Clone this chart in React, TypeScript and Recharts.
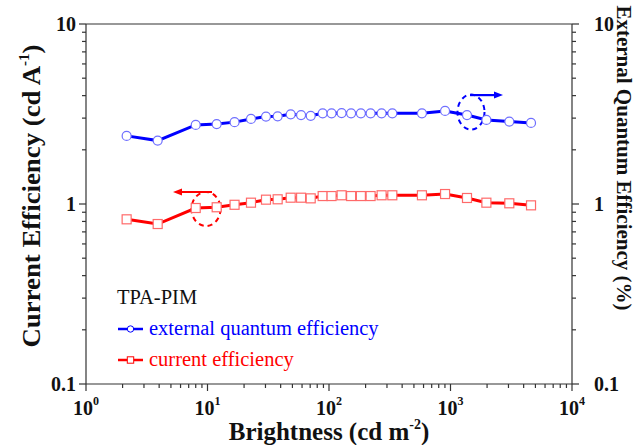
import { LineChart, Line, XAxis, YAxis, ReferenceDot, ReferenceLine, Legend } from 'recharts'

// brightness (cd m-2), shared by both curves
const brightness = [2.16, 3.89, 8.0, 11.9, 16.7, 22.8, 30.3, 37.8, 48.4, 58.9, 70.7, 88.7, 105, 127, 152, 183, 220, 271, 332, 582, 902, 1367, 1974, 3048, 4600]
// external quantum efficiency (%)
const eqe = [2.39, 2.25, 2.75, 2.78, 2.85, 2.97, 3.06, 3.07, 3.15, 3.12, 3.09, 3.19, 3.19, 3.2, 3.19, 3.19, 3.19, 3.19, 3.19, 3.19, 3.29, 3.12, 2.93, 2.87, 2.82]
// current efficiency (cd A-1)
const currentEff = [0.822, 0.774, 0.95, 0.959, 0.99, 1.017, 1.057, 1.062, 1.084, 1.084, 1.075, 1.107, 1.107, 1.118, 1.107, 1.107, 1.107, 1.118, 1.118, 1.118, 1.136, 1.08, 1.017, 1.009, 0.983]

const xTicks = [1, 2, 3, 4, 5, 6, 7, 8, 9, 10, 20, 30, 40, 50, 60, 70, 80, 90, 100, 200, 300, 400, 500, 600, 700, 800, 900, 1000, 2000, 3000, 4000, 5000, 6000, 7000, 8000, 9000, 10000]
const xMajor = [1, 10, 100, 1000, 10000]
const yTicks = [0.1, 0.2, 0.3, 0.4, 0.5, 0.6, 0.7, 0.8, 0.9, 1, 2, 3, 4, 5, 6, 7, 8, 9, 10]
const yMajor = [0.1, 1, 10]
const yLabels: Record<string, string> = { '0.1': '0.1', '1': '1', '10': '10' }

const data = brightness.map((b, i) => ({ b, eqe: eqe[i], ce: currentEff[i] }))

const FONT = '"Liberation Serif", "Times New Roman", serif'
const AXIS = '#333'
const BLUE = '#0000ff'
const RED = '#ff0000'

function XTick({ x, y, payload }: any) {
  const v = payload.value
  const major = xMajor.includes(v)
  return (
    <g>
      <line x1={x} x2={x} y1={y} y2={y + (major ? 7 : 4)} stroke={AXIS} strokeWidth={1.2} />
      {major && (
        <text x={x} y={y + 31} textAnchor="middle" fontFamily={FONT} fontWeight="bold" fontSize={20} fill="#111">
          10<tspan dy={-10} fontSize={12}>{Math.round(Math.log10(v))}</tspan>
        </text>
      )}
    </g>
  )
}

function LeftTick({ x, y, payload }: any) {
  const v = payload.value
  const major = yMajor.includes(v)
  return (
    <g>
      <line x1={x} x2={x - (major ? 7 : 4)} y1={y} y2={y} stroke={AXIS} strokeWidth={1.2} />
      {major && (
        <text x={x - 10} y={y} dy="0.35em" textAnchor="end" fontFamily={FONT} fontWeight="bold" fontSize={20} fill="#111">
          {yLabels[String(v)]}
        </text>
      )}
    </g>
  )
}

function RightTick({ x, y, payload }: any) {
  const v = payload.value
  const major = yMajor.includes(v)
  return (
    <g>
      <line x1={x} x2={x + (major ? 7 : 4)} y1={y} y2={y} stroke={AXIS} strokeWidth={1.2} />
      {major && (
        <text x={x + 22} y={y} dy="0.35em" textAnchor="start" fontFamily={FONT} fontWeight="bold" fontSize={20} fill="#111">
          {yLabels[String(v)]}
        </text>
      )}
    </g>
  )
}

const CircleDot = ({ cx, cy, index }: any) => (
  <circle key={`c-${index}`} cx={cx} cy={cy} r={4.5} fill="#fff" stroke="#6f6fff" strokeWidth={1.2} />
)
const SquareDot = ({ cx, cy, index }: any) => (
  <rect key={`s-${index}`} x={cx - 4.5} y={cy - 4.5} width={9} height={9} fill="#fff" stroke="#ff6a6a" strokeWidth={1.2} />
)

// dashed ellipse + arrow pointing at the axis a curve belongs to
function Marker(color: string, rx: number, ry: number, x1: number, x2: number, ay: number) {
  return ({ cx, cy }: any) => {
    const dir = x2 > x1 ? 1 : -1
    const tip = cx + x2
    return (
      <g>
        <ellipse cx={cx} cy={cy} rx={rx} ry={ry} fill="none" stroke={color} strokeWidth={2} strokeDasharray="5 4" />
        <line x1={cx + x1} x2={tip - dir * 7} y1={cy + ay} y2={cy + ay} stroke={color} strokeWidth={2.2} />
        <polygon points={`${tip},${cy + ay} ${tip - dir * 9},${cy + ay - 3.5} ${tip - dir * 9},${cy + ay + 3.5}`} fill={color} />
      </g>
    )
  }
}

const legendOrder = ['eqe', 'ce']
const legendShape: Record<string, 'circle' | 'square'> = { eqe: 'circle', ce: 'square' }

function LegendBox({ payload }: any) {
  const items = [...(payload || [])].sort((a: any, b: any) => legendOrder.indexOf(a.dataKey) - legendOrder.indexOf(b.dataKey))
  return (
    <div style={{ fontFamily: FONT, fontSize: 20.5, lineHeight: '31px', whiteSpace: 'nowrap' }}>
      <div style={{ color: '#111' }}>TPA-PIM</div>
      {items.map((p: any) => {
        const shape = legendShape[p.dataKey]
        return (
          <div key={p.dataKey} style={{ color: p.color, display: 'flex', alignItems: 'center' }}>
            <svg width={27} height={12} style={{ marginRight: 5 }}>
              <line x1={1} x2={26} y1={6} y2={6} stroke={p.color} strokeWidth={2.5} />
              {shape === 'circle' ? (
                <circle cx={13.5} cy={6} r={3.2} fill="#fff" stroke={p.color} strokeWidth={1} />
              ) : (
                <rect x={10.3} y={2.8} width={6.4} height={6.4} fill="#fff" stroke={p.color} strokeWidth={1} />
              )}
            </svg>
            {p.value}
          </div>
        )
      })}
    </div>
  )
}

export default function App() {
  return (
    <div style={{ position: 'absolute', left: 0, top: 0 }}>
      <LineChart width={641} height={445} data={data} margin={{ top: 24, right: 0, bottom: 0, left: 0 }}>
        <XAxis
          dataKey="b"
          type="number"
          scale="log"
          domain={[1, 10000]}
          ticks={xTicks}
          interval={0}
          height={61}
          tickSize={0}
          tickMargin={0}
          tickLine={false}
          tick={<XTick />}
          axisLine={{ stroke: AXIS, strokeWidth: 1.2 }}
          allowDataOverflow
          label={() => (
            <text x={329} y={440} textAnchor="middle" fontFamily={FONT} fontWeight="bold" fontSize={25} fill="#111">
              Brightness (cd m<tspan dy={-11} fontSize={14}>-2</tspan><tspan dy={11}>)</tspan>
            </text>
          )}
        />
        <YAxis
          yAxisId="left"
          scale="log"
          domain={[0.1, 10]}
          ticks={yTicks}
          interval={0}
          width={86}
          tickSize={0}
          tickMargin={0}
          tickLine={false}
          tick={<LeftTick />}
          axisLine={{ stroke: AXIS, strokeWidth: 1.2 }}
          allowDataOverflow
          label={() => (
            <text
              x={40}
              y={196}
              transform="rotate(-90 40 196)"
              textAnchor="middle"
              textLength={303}
              lengthAdjust="spacingAndGlyphs"
              fontFamily={FONT}
              fontWeight="bold"
              fontSize={25}
              fill="#111"
            >
              Current Efficiency (cd A<tspan dy={-11} fontSize={14}>-1</tspan><tspan dy={11}>)</tspan>
            </text>
          )}
        />
        <YAxis
          yAxisId="right"
          orientation="right"
          scale="log"
          domain={[0.1, 10]}
          ticks={yTicks}
          interval={0}
          width={69}
          tickSize={0}
          tickMargin={0}
          tickLine={false}
          tick={<RightTick />}
          axisLine={{ stroke: AXIS, strokeWidth: 1.2 }}
          allowDataOverflow
          label={() => (
            <text
              x={617}
              y={158}
              transform="rotate(90 617 158)"
              textAnchor="middle"
              fontFamily={FONT}
              fontWeight="bold"
              fontSize={21}
              fill="#111"
            >
              External Quantum Efficiency (%)
            </text>
          )}
        />
        <ReferenceLine yAxisId="left" y={10} stroke={AXIS} strokeWidth={1.2} />
        <Legend
          layout="horizontal"
          verticalAlign="middle"
          align="center"
          wrapperStyle={{ left: 117, top: 282, width: 'auto' }}
          content={<LegendBox />}
        />
        <Line
          yAxisId="right"
          dataKey="eqe"
          name="external quantum efficiency"
          stroke={BLUE}
          strokeWidth={3}
          dot={<CircleDot />}
          isAnimationActive={false}
        />
        <Line
          yAxisId="left"
          dataKey="ce"
          name="current efficiency"
          stroke={RED}
          strokeWidth={3}
          dot={<SquareDot />}
          isAnimationActive={false}
        />
        <ReferenceDot yAxisId="right" x={1475} y={3.24} r={0} shape={Marker(BLUE, 13.5, 17.5, -1, 32, -17)} />
        <ReferenceDot yAxisId="left" x={9.72} y={0.938} r={0} shape={Marker(RED, 14.5, 17, 6, -33, -17)} />
      </LineChart>
    </div>
  )
}
